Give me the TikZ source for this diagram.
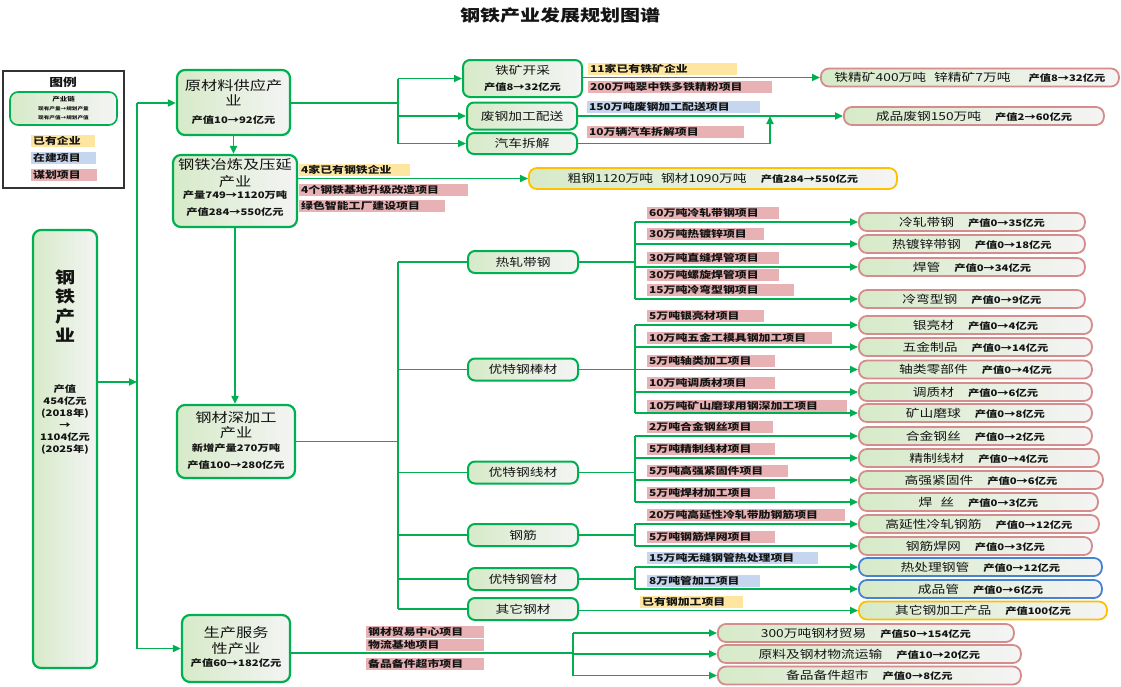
\documentclass[tikz,border=0pt]{standalone}
\usepackage{fontspec}
\setmainfont{Noto Sans CJK SC}[FakeStretch=1.25]
\usetikzlibrary{arrows.meta}
\newcommand\myfs[2]{\fontsize{#1}{#2}\selectfont}
\definecolor{gr}{RGB}{0,176,80}
\definecolor{lg}{RGB}{214,234,200}
\definecolor{pk}{RGB}{212,140,140}
\definecolor{ye}{RGB}{255,230,160}
\definecolor{bl}{RGB}{198,214,238}
\definecolor{rd}{RGB}{232,178,180}
\definecolor{og}{RGB}{255,192,0}
\definecolor{bb}{RGB}{70,130,210}
\definecolor{wt}{RGB}{244,244,244}
\definecolor{tx}{RGB}{20,20,20}
\tikzset{
  conn/.style={draw=gr, line width=1.8pt},
  arr/.style={conn, -{Triangle[length=8pt,width=7pt]}},
  bignode/.style={draw=gr, line width=2.2pt, rounded corners=8pt, left color=lg, right color=wt, inner sep=0pt},
  secnode/.style={draw=gr, line width=2pt, rounded corners=7pt, left color=lg, right color=wt, minimum width=110pt, minimum height=22pt, inner sep=0pt, align=center, font=\myfs{11}{16}, text=tx},
  leaf/.style={draw=pk, line width=1.8pt, rounded corners=8pt, left color=lg, right color=wt, minimum height=18pt, inner sep=0pt, anchor=west, font=\myfs{11}{13}, text=tx},
  lab/.style={anchor=west, minimum height=12pt, inner xsep=2pt, inner ysep=0pt, font=\bfseries\myfs{9.5}{11}, text=tx},
  txt/.style={align=center, inner sep=0pt, text=tx},
}
\newcommand\mylab[6]{\node[lab,fill=#1] (#2) at (#3,#4) {\makebox[\dimexpr#5pt-4pt\relax][l]{#6}};}
\newcommand\leaftxt[2]{#1\hspace{14pt}{\bfseries\myfs{9}{11}#2}}
\begin{document}
\begin{tikzpicture}[x=1pt,y=-1pt]
\fill[white] (0,0) rectangle (1121,686);
\useasboundingbox (0,0) rectangle (1121,686);
% title
\node[txt, font=\bfseries\myfs{16}{18}] (title) at (560,15) {钢铁产业发展规划图谱};
% legend
\node[draw=black!80, line width=1.2pt, fill=white, minimum width=121pt, minimum height=117pt, inner sep=0pt] (lgd) at (63.5,129.5) {};
\node[txt, font=\bfseries\myfs{11}{13}] (lgt) at (63,82) {图例};
\node[bignode, line width=1.6pt, minimum width=107pt, minimum height=33pt, align=center, font=\bfseries\myfs{4.5}{9}, text=tx] (lgc) at (63.5,108.5) {{\myfs{6}{9}产业链}\\现有产量→规划产量\\现有产值→规划产值};
\mylab{ye}{lg1}{31}{141}{64}{已有企业}
\mylab{bl}{lg2}{31}{157.5}{65}{在建项目}
\mylab{rd}{lg3}{31}{175}{66}{谋划项目}
% main node
\node[bignode, minimum width=64pt, minimum height=438pt] (n0) at (65,449) {};
\node[txt, font=\bfseries\myfs{16}{19.5}] (n0a) at (65,306) {钢\\铁\\产\\业};
\node[txt, font=\bfseries\myfs{9}{12}] (n0b) at (65,420) {产值\\454亿元\\(2018年)\\→\\1104亿元\\(2025年)};
% level 1 nodes
\node[bignode, minimum width=113pt, minimum height=65pt] (n1) at (233.5,102.5) {};
\node[txt, font=\myfs{13}{15}] (n1a) at (233.5,92.5) {原材料供应产\\业};
\node[txt, font=\bfseries\myfs{9}{11}] (n1b) at (233.5,120) {产值10→92亿元};
\node[bignode, minimum width=124pt, minimum height=72pt] (n2) at (235,191) {};
\node[txt, font=\myfs{13}{17}] (n2a) at (235,173.5) {钢铁冶炼及压延\\产业};
\node[txt, font=\bfseries\myfs{9}{17}] (n2b) at (235,203.5) {产量749→1120万吨\\产值284→550亿元};
\node[bignode, minimum width=118pt, minimum height=73pt] (n3) at (236,441.5) {};
\node[txt, font=\myfs{13}{15}] (n3a) at (236,425.5) {钢材深加工\\产业};
\node[txt, font=\bfseries\myfs{9}{17}] (n3b) at (236,456.5) {新增产量270万吨\\产值100→280亿元};
\node[bignode, minimum width=108pt, minimum height=67pt] (n4) at (236,648.5) {};
\node[txt, font=\myfs{13}{16}] (n4a) at (236,641) {生产服务\\性产业};
\node[txt, font=\bfseries\myfs{9}{11}] (n4b) at (236,663) {产值60→182亿元};
% trunk
\coordinate (tm) at (137,382);
\coordinate (tt) at (137,103);
\coordinate (tb) at (137,648.5);
\draw[conn] (tt) -- (tb);
\draw[arr] (n0.east |- tm) -- (tm);
\draw[arr] (tt) -- (n1.west |- tt);
\draw[arr] (tb) -- (n4.west |- tb);
\draw[arr] (n1.south) -- (n1.south |- n2.north);
\draw[arr] (n2.south) -- (n2.south |- n3.north);
% raw material group
\node[secnode, minimum width=119pt, minimum height=37pt] (s1) at (522.5,78.5) {铁矿开采\\{\bfseries\myfs{9}{16}产值8→32亿元}};
\node[secnode, minimum height=27pt] (s2) at (522,116) {废钢加工配送};
\node[secnode, minimum height=21pt] (s3) at (522,143.5) {汽车拆解};
\coordinate (j1) at (398,103);
\draw[conn] (n1.east |- j1) -- (j1);
\draw[conn] (j1 |- s1.west) -- (j1 |- s3.west);
\draw[arr] (j1 |- s1.west) -- (s1.west);
\draw[arr] (j1 |- s2.west) -- (s2.west);
\draw[arr] (j1 |- s3.west) -- (s3.west);
\mylab{ye}{l1}{588}{69}{149}{11家已有铁矿企业}
\mylab{rd}{l2}{588}{87}{184}{200万吨翠中铁多铁精粉项目}
\mylab{bl}{l3}{587}{106.5}{173}{150万吨废钢加工配送项目}
\mylab{rd}{l4}{587}{132}{157}{10万辆汽车拆解项目}
\node[leaf, minimum width=298pt] (r1) at (820,77.5) {铁精矿400万吨\hspace{8pt}锌精矿7万吨\hspace{18pt}{\bfseries\myfs{9}{11}产值8→32亿元}};
\node[leaf, minimum width=260pt] (r2) at (843,116) {\leaftxt{成品废钢150万吨}{产值2→60亿元}};
\draw[arr] (s1.east |- r1.west) -- (r1.west);
\draw[arr] (s2.east) -- (r2.west);
\coordinate (j3) at (770,143.5);
\draw[arr] (s3.east) -- (j3) -- (j3 |- r2.west);
% smelting
\node[leaf, draw=og, minimum width=368pt, minimum height=21pt] (r3) at (528,178.5) {粗钢1120万吨\hspace{8pt}钢材1090万吨\hspace{14pt}{\bfseries\myfs{9}{11}产值284→550亿元}};
\draw[arr] (n2.east |- r3.west) -- (r3.west);
\mylab{ye}{l5}{299}{169.5}{111}{4家已有钢铁企业}
\mylab{rd}{l6}{299}{190}{169}{4个钢铁基地升级改造项目}
\mylab{rd}{l7}{299}{205.5}{146}{绿色智能工厂建设项目}
% deep processing
\node[secnode] (h1) at (523,262) {热轧带钢};
\node[secnode] (h2) at (523,369.5) {优特钢棒材};
\node[secnode] (h3) at (523,472.5) {优特钢线材};
\node[secnode] (h4) at (523,535) {钢筋};
\node[secnode] (h5) at (523,579) {优特钢管材};
\node[secnode] (h6) at (523,609) {其它钢材};
\coordinate (j2) at (398,441.5);
\draw[conn] (n3.east) -- (j2);
\draw[conn] (j2 |- h1.west) -- (j2 |- h6.west);
\foreach \h in {h1,h2,h3,h4,h5,h6} {\draw[conn] (j2 |- \h.west) -- (\h.west);}
% group 1
\node[leaf, minimum width=226pt] (r11) at (858,222) {\leaftxt{冷轧带钢}{产值0→35亿元}};
\node[leaf, minimum width=226pt] (r12) at (858,244) {\leaftxt{热镀锌带钢}{产值0→18亿元}};
\node[leaf, minimum width=226pt] (r13) at (858,267) {\leaftxt{焊管}{产值0→34亿元}};
\node[leaf, minimum width=226pt] (r14) at (858,299) {\leaftxt{冷弯型钢}{产值0→9亿元}};
\coordinate (g1) at (635,262);
\draw[conn] (h1.east) -- (g1);
\draw[conn] (g1 |- r11.west) -- (g1 |- r14.west);
\foreach \r in {r11,r12,r13,r14} {\draw[arr] (g1 |- \r.west) -- (\r.west);}
\mylab{rd}{l11}{647}{213}{132}{60万吨冷轧带钢项目}
\mylab{rd}{l12}{647}{234}{117}{30万吨热镀锌项目}
\mylab{rd}{l13}{647}{258}{132}{30万吨直缝焊管项目}
\mylab{rd}{l14}{647}{275}{132}{30万吨螺旋焊管项目}
\mylab{rd}{l15}{647}{290}{147}{15万吨冷弯型钢项目}
% group 2
\node[leaf, minimum width=233pt] (r21) at (858,325) {\leaftxt{银亮材}{产值0→4亿元}};
\node[leaf, minimum width=233pt] (r22) at (858,347) {\leaftxt{五金制品}{产值0→14亿元}};
\node[leaf, minimum width=233pt] (r23) at (858,369.5) {\leaftxt{轴类零部件}{产值0→4亿元}};
\node[leaf, minimum width=233pt] (r24) at (858,392) {\leaftxt{调质材}{产值0→6亿元}};
\node[leaf, minimum width=233pt] (r25) at (858,413) {\leaftxt{矿山磨球}{产值0→8亿元}};
\coordinate (g2) at (635,369.5);
\draw[conn] (h2.east) -- (g2);
\draw[conn] (g2 |- r21.west) -- (g2 |- r25.west);
\foreach \r in {r21,r22,r23,r24,r25} {\draw[arr] (g2 |- \r.west) -- (\r.west);}
\mylab{rd}{l21}{647}{316}{117}{5万吨银亮材项目}
\mylab{rd}{l22}{647}{338}{185}{10万吨五金工模具钢加工项目}
\mylab{rd}{l23}{647}{361}{128}{5万吨轴类加工项目}
\mylab{rd}{l24}{647}{383}{128}{10万吨调质材项目}
\mylab{rd}{l25}{647}{405.5}{200}{10万吨矿山磨球用钢深加工项目}
% group 3
\node[leaf, minimum width=233pt] (r31) at (858,436) {\leaftxt{合金钢丝}{产值0→2亿元}};
\node[leaf, minimum width=240pt] (r32) at (858,458) {\leaftxt{精制线材}{产值0→4亿元}};
\node[leaf, minimum width=244pt] (r33) at (858,480) {\leaftxt{高强紧固件}{产值0→6亿元}};
\node[leaf, minimum width=239pt] (r34) at (858,502) {\leaftxt{焊\hspace{8pt}丝}{产值0→3亿元}};
\coordinate (g3) at (635,472.5);
\draw[conn] (h3.east) -- (g3);
\draw[conn] (g3 |- r31.west) -- (g3 |- r34.west);
\foreach \r in {r31,r32,r33,r34} {\draw[arr] (g3 |- \r.west) -- (\r.west);}
\mylab{rd}{l31}{647}{427}{126}{2万吨合金钢丝项目}
\mylab{rd}{l32}{647}{449}{128}{5万吨精制线材项目}
\mylab{rd}{l33}{647}{471}{141}{5万吨高强紧固件项目}
\mylab{rd}{l34}{647}{493}{128}{5万吨焊材加工项目}
% group 4
\node[leaf, minimum width=240pt] (r41) at (858,524) {\leaftxt{高延性冷轧钢筋}{产值0→12亿元}};
\node[leaf, minimum width=233pt] (r42) at (858,546) {\leaftxt{钢筋焊网}{产值0→3亿元}};
\coordinate (g4) at (635,535);
\draw[conn] (h4.east) -- (g4);
\draw[conn] (g4 |- r41.west) -- (g4 |- r42.west);
\foreach \r in {r41,r42} {\draw[arr] (g4 |- \r.west) -- (\r.west);}
\mylab{rd}{l41}{647}{515}{198}{20万吨高延性冷轧带肋钢筋项目}
\mylab{rd}{l42}{647}{537}{128}{5万吨钢筋焊网项目}
% group 5
\node[leaf, draw=bb, minimum width=243pt] (r51) at (858,567) {\leaftxt{热处理钢管}{产值0→12亿元}};
\node[leaf, draw=bb, minimum width=243pt] (r52) at (858,589) {\leaftxt{成品管}{产值0→6亿元}};
\coordinate (g5) at (635,579);
\draw[conn] (h5.east) -- (g5);
\draw[conn] (g5 |- r51.west) -- (g5 |- r52.west);
\foreach \r in {r51,r52} {\draw[arr] (g5 |- \r.west) -- (\r.west);}
\mylab{bl}{l51}{647}{558}{171}{15万吨无缝钢管热处理项目}
\mylab{bl}{l52}{647}{581}{113}{8万吨管加工项目}
% group 6
\node[leaf, draw=og, minimum width=248pt] (r61) at (858,610.5) {\leaftxt{其它钢加工产品}{产值100亿元}};
\draw[arr] (h6.east |- r61.west) -- (r61.west);
\mylab{ye}{l61}{640}{602}{103}{已有钢加工项目}
% services
\node[leaf, minimum width=296pt] (s41) at (717,633) {\leaftxt{300万吨钢材贸易}{产值50→154亿元}};
\node[leaf, minimum width=303pt] (s42) at (717,654) {\leaftxt{原料及钢材物流运输}{产值10→20亿元}};
\node[leaf, minimum width=303pt] (s43) at (717,675.5) {\leaftxt{备品备件超市}{产值0→8亿元}};
\coordinate (j4) at (573,653);
\draw[conn] (n4.east |- j4) -- (j4);
\draw[conn] (j4 |- s41.west) -- (j4 |- s43.west);
\foreach \r in {s41,s42,s43} {\draw[arr] (j4 |- \r.west) -- (\r.west);}
\mylab{rd}{l71}{366}{631.5}{118}{钢材贸易中心项目}
\mylab{rd}{l72}{366}{645}{118}{物流基地项目}
\mylab{rd}{l73}{366}{663.5}{118}{备品备件超市项目}
\end{tikzpicture}
\end{document}
